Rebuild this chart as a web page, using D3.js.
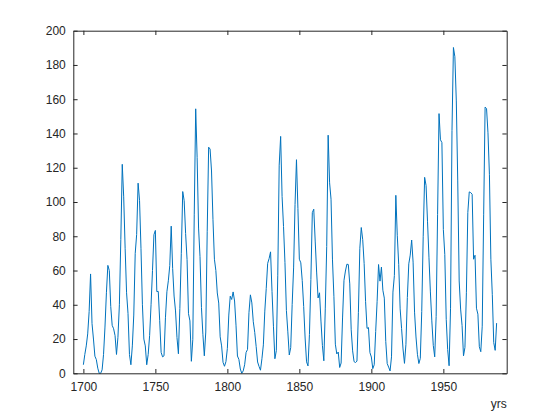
<!DOCTYPE html>
<html><head><meta charset="utf-8">
<script src="https://cdn.jsdelivr.net/npm/d3@7"></script>
<style>body{margin:0;background:#fff}svg text{font-family:Helvetica,"Liberation Sans",Arial,sans-serif}</style>
</head><body><svg id="c" width="560" height="420"></svg>
<script>
const startYear = 1700;
const sunspots = [5,11,16,23,36,58,29,20,10,8,3,0,0,2,11,27,47,63,60,39,28,26,22,11,21,40,78,122,103,73,47,35,11,5,16,34,70,81,111,101,73,40,20,16,5,11,22,40,60,80.9,83.4,47.7,47.8,30.7,12.2,9.6,10.2,32.4,47.6,54,62.9,85.9,61.2,45.1,36.4,20.9,11.4,37.8,69.8,106.1,100.8,81.6,66.5,34.8,30.6,7,19.8,92.5,154.4,125.9,84.8,68.1,38.5,22.8,10.2,24.1,82.9,132,130.9,118.1,89.9,66.6,60,46.9,41,21.3,16,6.4,4.1,6.8,14.5,34,45,43.1,47.5,42.2,28.1,10.1,8.1,2.5,0,1.4,5,12.2,13.9,35.4,45.8,41.1,30.1,23.9,15.6,6.6,4,1.8,8.5,16.6,36.3,49.6,64.2,67,70.9,47.8,27.5,8.5,13.2,56.9,121.5,138.3,103.2,85.7,64.6,36.7,24.2,10.7,15,40.1,61.5,98.5,124.7,96.3,66.6,64.5,54.1,39,20.6,6.7,4.3,22.7,54.8,93.8,95.8,77.2,59.1,44,47,30.5,16.3,7.3,37.6,74,139,111.2,101.6,66.2,44.7,17,11.3,12.4,3.4,6,32.3,54.3,59.7,63.7,63.5,52.2,25.4,13.1,6.8,6.3,7.1,35.6,73,85.1,78,64,41.8,26.2,26.7,12.1,9.5,2.7,5,24.4,42,63.5,53.8,62,48.5,43.9,18.6,5.7,3.6,1.4,9.6,47.4,57.1,103.9,80.6,63.6,37.6,26.1,14.2,5.8,16.7,44.3,63.9,69,77.8,64.9,35.7,21.2,11.1,5.7,8.7,36.1,79.7,114.4,109.6,88.8,67.8,47.5,30.6,16.3,9.6,33.2,92.6,151.6,136.3,134.7,83.9,69.4,31.5,13.9,4.4,38,141.7,190.2,184.8,159,112.3,53.9,37.5,27.9,10.2,15.1,47,93.8,105.9,105.5,104.5,66.6,68.9,38,34.5,15.5,12.6,27.5,92.5,155.4,154.6,140.4,115.9,66.6,45.9,17.9,13.4,29.3];
const years = sunspots.map((v,i)=>startYear+i);
const xTicks = [1700,1750,1800,1850,1900,1950];
const yTicks = [0,20,40,60,80,100,120,140,160,180,200];
const xLabel = "yrs";

const svg = d3.select("#c");
const L=73.3, R=506.7, T=30.7, B=373.3;
const x = d3.scaleLinear().domain([1693,1994]).range([L,R]);
const y = d3.scaleLinear().domain([0,200]).range([B,T]);
const tl = 4.3;
const axc = "#262626";

const line = d3.line().x((d,i)=>x(years[i])).y(d=>y(d));
svg.append("path").datum(sunspots).attr("d",line).attr("fill","none")
  .attr("stroke","#0072BD").attr("stroke-width",1);

function styleAxis(g){
  g.selectAll(".domain").attr("stroke",axc);
  g.selectAll(".tick line").attr("stroke",axc);
  g.selectAll("text").attr("fill",axc).attr("font-size","12px");
}
svg.append("g").attr("transform",`translate(0,${B})`)
  .call(d3.axisBottom(x).tickValues(xTicks).tickFormat(d3.format("d")).tickSize(-tl).tickSizeOuter(0).tickPadding(9))
  .call(styleAxis);
svg.append("g").attr("transform",`translate(0,${T})`)
  .call(d3.axisTop(x).tickValues(xTicks).tickFormat("").tickSize(-tl).tickSizeOuter(0))
  .call(styleAxis);
svg.append("g").attr("transform",`translate(${L},0)`)
  .call(d3.axisLeft(y).tickValues(yTicks).tickSize(-tl).tickSizeOuter(0).tickPadding(7.5))
  .call(styleAxis);
svg.append("g").attr("transform",`translate(${R},0)`)
  .call(d3.axisRight(y).tickValues(yTicks).tickFormat("").tickSize(-tl).tickSizeOuter(0))
  .call(styleAxis);

svg.append("text").attr("x",R).attr("y",408).attr("text-anchor","end")
  .attr("font-size","12px").attr("fill",axc).text(xLabel);
</script></body></html>
